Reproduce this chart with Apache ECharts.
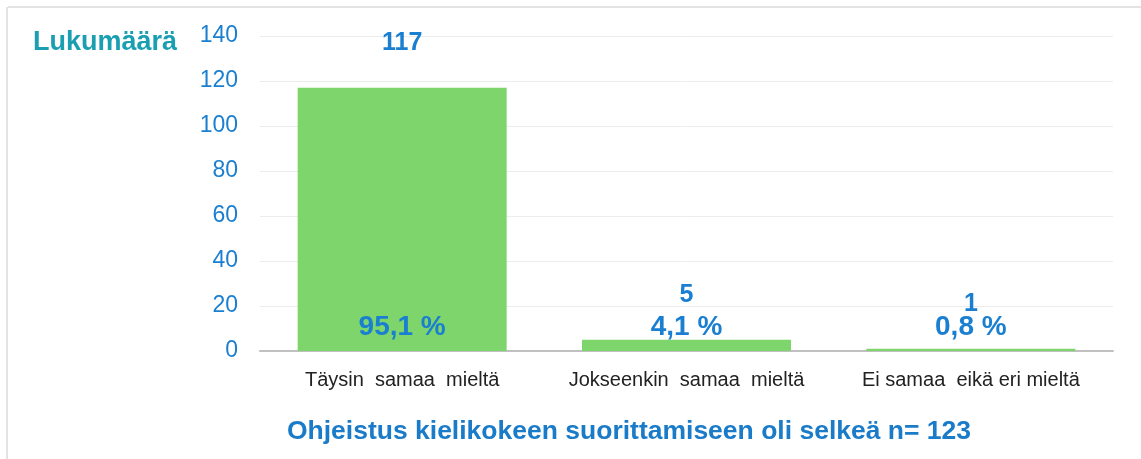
<!DOCTYPE html>
<html>
<head>
<meta charset="utf-8">
<script src="https://cdn.jsdelivr.net/npm/echarts@6/dist/echarts.min.js"></script>
<style>
html,body{margin:0;padding:0;background:#fff;}
#c{width:1141px;height:459px;}
</style>
</head>
<body>
<div id="c"></div>
<script>
const categories = ['Täysin  samaa  mieltä', 'Jokseenkin  samaa  mieltä', 'Ei samaa  eikä eri mieltä'];
const counts = [117, 5, 1];
const percents = ['95,1 %', '4,1 %', '0,8 %'];
const yTicks = [0, 20, 40, 60, 80, 100, 120, 140];
const titleText = 'Ohjeistus kielikokeen suorittamiseen oli selkeä n= 123';
const yName = 'Lukumäärä';

const chart = echarts.init(document.getElementById('c'), null, {renderer: 'canvas'});
const font = 'Liberation Sans, Arial, sans-serif';
const pctLabelLevel = 10.7;

chart.setOption({
  animation: false,
  textStyle: {fontFamily: font},
  title: {
    text: titleText,
    left: 624, top: 413, textAlign: 'center',
    textStyle: {fontSize: 26.5, fontWeight: 'bold', color: '#1a7bc9', fontFamily: font}
  },
  graphic: [
    {type: 'line', shape: {x1: 8, y1: 7, x2: 1141, y2: 7}, style: {stroke: '#e3e3e3', lineWidth: 2}},
    {type: 'line', shape: {x1: 7, y1: 7, x2: 7, y2: 459}, style: {stroke: '#e3e3e3', lineWidth: 2}},
    {type: 'text', left: 33, top: 29, style: {text: yName, font: 'bold 27px ' + font, fill: '#1a9eb1'}}
  ],
  grid: {left: 260, right: 28, top: 36, bottom: 108},
  xAxis: {
    type: 'category',
    data: categories,
    axisLine: {lineStyle: {color: '#c0c0c0', width: 2}},
    axisTick: {show: false},
    axisLabel: {fontSize: 20, color: '#222', margin: 19, interval: 0, hideOverlap: false, fontFamily: font}
  },
  yAxis: {
    type: 'value',
    min: yTicks[0], max: yTicks[yTicks.length - 1], interval: yTicks[1] - yTicks[0],
    axisLine: {show: false},
    axisTick: {show: false},
    axisLabel: {fontSize: 23, color: '#1a7fd0', margin: 22, fontFamily: font},
    splitLine: {lineStyle: {color: '#ececec', width: 1}}
  },
  series: [
    {
      type: 'bar',
      data: counts,
      barWidth: '73.5%',
      itemStyle: {color: '#7dd56b'},
      label: {
        show: true, position: 'top', distance: 32,
        fontSize: 25, fontWeight: 'bold', color: '#1a7fd0', fontFamily: font
      },
      z: 2
    },
    {
      type: 'scatter',
      data: percents.map((p, i) => ({value: [i, pctLabelLevel], label: {formatter: p}})),
      symbolSize: 0,
      silent: true,
      itemStyle: {opacity: 1},
      label: {
        show: true, position: 'inside',
        fontSize: 28, fontWeight: 'bold', color: '#1a7fd0', opacity: 1, fontFamily: font
      },
      z: 3
    }
  ]
});
</script>
</body>
</html>
